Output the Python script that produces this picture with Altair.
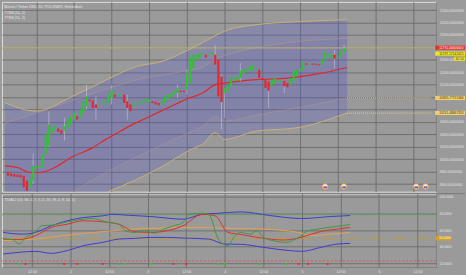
import altair as alt
import pandas as pd

# ---------------- price panel data (Heikin Ashi, hourly) ----------------
candle_open = [9786, 9770, 9760, 9755, 9749, 9733, 9653, 9547, 9653, 9840, 9856, 9867, 10080, 10213, 10426, 10480,
               10496, 10464, 10453, 10506, 10560, 10640, 10693, 10666, 10746, 10853, 10960, 10944, 10880, 10880, 10880,
               10906, 10906, 10986, 11040, 11029, 11029, 11040, 10933, 10880, 10853, 10896, 10890, 10906, 10922, 10922,
               10933, 10922, 10906, 10890, 10906, 10960, 10997, 11040, 11066, 11104, 11104, 11120, 11226, 11460, 11600,
               11626,
               11680, 11680, 11669, 11680, 11680, 11600, 11333, 11066, 11093, 11173, 11253, 11264, 11306, 11370, 11413,
               11413, 11440, 11440, 11440, 11306, 11290, 11253, 11173, 11226, 11253, 11253, 11264, 11226, 11200, 11253,
               11333, 11413, 11456, 11546, 11520, 11541, 11536, 11530, 11520, 11600, 11653, 11626, 11680, 11637, 11653,
               11706]
candle_close = [9733, 9725, 9717, 9712, 9707, 9547, 9493, 9680, 9893, 9893, 9877, 10080, 10400, 10560, 10506, 10533,
                10442, 10410, 10533, 10640, 10693, 10746, 10640, 10800, 10933, 11013, 10933, 10826, 10826, 10901, 10906,
                10933, 11040, 11120, 10997, 11050, 11050, 10906, 10826, 10773, 10906, 10917, 10917, 10933, 10976, 10960,
                10906, 10880, 10869, 10933, 11013, 11040, 11066, 11093, 11146, 11082, 11082, 11386, 11653, 11680, 11680,
                11706,
                11706, 11637, 11690, 11722, 11520, 11013, 10922, 11146, 11200, 11306, 11306, 11333, 11424, 11440, 11456,
                11493, 11520, 11466, 11306, 11280, 11146, 11104, 11280, 11317, 11280, 11280, 11173, 11157, 11306, 11424,
                11440, 11466, 11562, 11520, 11546, 11520, 11520, 11509, 11600, 11722, 11706, 11680, 11616, 11669, 11733,
                11787]
first_candle_hour = 3
candle_hour = [first_candle_hour + i for i in range(len(candle_open))]

wick_index = [8, 13, 18, 25, 28, 33, 38, 54, 57, 66, 68, 69, 74, 83, 88, 104, 107]
wick_high = [10085, 10773, 10666, 11200, 11013, 11200, 11040, 11200, 11440, 11840, 11360, 11146, 11546, 11253, 11280, 11760, 11840]
wick_low = [9600, 10200, 10300, 10800, 10640, 10880, 10640, 10986, 11040, 11520, 10480, 10666, 11253, 10826, 11066, 11466, 11700]

band_hour = [2, 12, 23, 34, 44, 52, 61, 65, 69, 72, 82, 95, 111]
upper_outer = [10909, 10773, 10997, 11269, 11493, 11573, 11773, 11877, 11989, 12061, 12165, 12213, 12245]
upper_inner = [10581, 10746, 10938, 11125, 11277, 11354, 11435, 11477, 11621, 11669, 11797, 11893, 11946]
lower_inner = [9173, 9301, 9469, 9781, 10037, 10229, 10437, 10533, 10693, 10613, 10709, 10826, 10986]
lower_outer = [8933, 8965, 9126, 9453, 9674, 9882, 10149, 10245, 10426, 10320, 10453, 10506, 10746]

ma_hour = [2, 6, 10, 13, 18, 23, 30, 34, 37, 42, 47, 52, 57, 60, 65, 69, 72, 82, 92, 103, 111]
ma_value = [9893, 9866, 9786, 9786, 9866, 10026, 10186, 10315, 10400, 10540, 10660, 10780, 10900, 10970, 11066,
            11200, 11226, 11280, 11306, 11386, 11477]

price_line = 11791.0
last_price = 11787.17142425
countdown = "32:14"
band_end_lower_inner = 10985.77721366
band_end_lower_outer = 10741.48667353
extension_hours = [111, 137.8]

icon_hour = [104, 110, 133, 136]
icon_price = [9560, 9560, 9560, 9560]

# ---------------- oscillator (TDI) data ----------------
green_hour = [3, 6, 8, 10, 13, 15, 18, 20, 22, 25, 28, 31, 34, 36, 39, 41, 44, 47, 50, 53, 56, 59, 61, 65, 67, 70,
              73, 75, 77, 80, 82, 84, 87, 91, 95, 98, 101, 104, 107, 111]
green_value = [49.2, 48.5, 43.2, 51.2, 57.1, 65.1, 65.8, 67.0, 69.0, 71.1, 73.0, 73.8, 71.1, 69.0, 67.0, 59.2, 57.1,
               59.2, 56.3, 61.1, 65.1, 69.0, 78.9, 80.1, 78.9, 49.2, 41.3, 52.4, 57.1, 55.1, 59.2, 51.2, 47.3, 45.2,
               51.2, 59.2, 61.1, 63.1, 64.3, 66.7]
red_hour = [3, 8, 13, 18, 23, 28, 34, 39, 44, 49, 54, 59, 65, 69, 73, 77, 82, 86, 90, 95, 99, 103, 107, 111]
red_value = [49.2, 48.5, 53.2, 63.1, 67.0, 71.1, 69.9, 67.0, 58.0, 57.1, 59.2, 65.1, 78.9, 77.0, 57.1, 54.8, 51.2,
             49.2, 48.0, 50.4, 55.1, 59.2, 61.1, 63.1]
blue_up_hour = [3, 9, 13, 18, 23, 28, 34, 37, 42, 49, 59, 65, 70, 77, 86, 96, 105, 111]
blue_up_value = [57.1, 55.1, 57.1, 65.1, 71.1, 75.0, 77.0, 78.9, 77.7, 76.2, 73.0, 78.9, 80.1, 81.8, 77.4, 73.8,
                 76.2, 77.4]
blue_lo_hour = [3, 8, 13, 18, 23, 28, 34, 39, 44, 49, 54, 59, 67, 72, 77, 84, 92, 96, 102, 107, 111]
blue_lo_value = [31.3, 33.3, 34.5, 32.1, 35.4, 41.3, 45.2, 49.2, 50.0, 51.2, 51.2, 50.4, 49.2, 43.2, 42.9, 39.3,
                 35.4, 34.5, 39.3, 43.2, 44.0]
orange_hour = [3, 13, 23, 34, 44, 54, 65, 75, 84, 95, 99, 105, 111]
orange_value = [47.3, 49.2, 53.8, 58.1, 61.1, 62.5, 63.1, 61.9, 61.1, 57.1, 53.2, 55.1, 57.1]
level_high, level_mid, level_low = 78, 50, 23

dot_hour = [8, 10, 22, 26, 34, 39, 41, 49, 56, 60, 70, 72, 83, 91, 95, 98, 104]
dot_kind = ["p", "y", "y", "y", "y", "p", "m", "m", "c", "y", "p", "m", "m", "m", "c", "y", "y"]
dot_level = 19.4

time_ticks = [12, 24, 36, 48, 60, 72, 84, 96, 108, 120, 132]
price_ticks = list(range(9600, 12401, 200))
osc_ticks = [20, 40, 60, 80, 100]

title_lines = ["Bitcoin / Tether USD, 60, POLONIEX, Heikin Ashi", "TTSB (50, 2)", "TTSB (50, 2)"]
title_rows = [5.3, 11.0, 16.3]
tdi_title = "TDIACI (13, 34, 2, 7, 5, 2, 23, 78, 2, 8, 14, 1)"

# ---------------- styling ----------------
BG = "#9a9a9a"
GRID = "#707070"
LABEL = "#e2e2e2"
FONT = "Liberation Sans"
GREEN = "#2fc32f"
RED = "#e5262a"
W, H1, H2 = 437, 191, 74
XDOM = [2.66, 137.8]
PDOM = [9477, 12533]
ODOM = [15.5, 103.6]

xscale = alt.Scale(domain=XDOM, nice=False, zero=False)
pscale = alt.Scale(domain=PDOM, nice=False, zero=False)
oscale = alt.Scale(domain=ODOM, nice=False, zero=False)

x_axis_top = alt.Axis(values=time_ticks, labels=False, ticks=False, domain=False, grid=True,
                      gridColor=GRID, gridWidth=1, title=None, minExtent=0, maxExtent=0)
x_axis_bot = alt.Axis(values=time_ticks,
                      labelExpr="datum.value % 24 == 0 ? toString(datum.value / 24 + 1) : '12:00'",
                      ticks=False, domain=True, domainColor=GRID, grid=True, gridColor=GRID, gridWidth=1,
                      labelColor=LABEL, labelFontSize=3.6, labelFont=FONT, labelPadding=2.5, title=None,
                      minExtent=10, maxExtent=10, labelOverlap=False)
p_axis = alt.Axis(orient="right", values=price_ticks,
                  labelExpr="indexof([11800, 11000, 10800], datum.value) >= 0 ? '' : format(datum.value, '.8f')",
                  ticks=False, domain=True, domainColor=GRID, grid=True, gridColor=GRID, gridWidth=1,
                  labelColor=LABEL, labelFontSize=3.3, labelFont=FONT, labelPadding=3, labelAlign="left",
                  title=None, minExtent=29, maxExtent=29, labelOverlap=False)
o_axis = alt.Axis(orient="right", values=osc_ticks, format=".4f",
                  ticks=False, domain=True, domainColor=GRID, grid=True, gridColor=GRID, gridWidth=1,
                  labelColor=LABEL, labelFontSize=3.3, labelFont=FONT, labelPadding=3, labelAlign="left",
                  title=None, minExtent=29, maxExtent=29, labelOverlap=False)


def XT(f):
    return alt.X(f, type="quantitative", scale=xscale, axis=x_axis_top)


def XB(f):
    return alt.X(f, type="quantitative", scale=xscale, axis=x_axis_bot)


def YP(f):
    return alt.Y(f, type="quantitative", scale=pscale, axis=p_axis)


def YO(f):
    return alt.Y(f, type="quantitative", scale=oscale, axis=o_axis)


def box_path(w, h):
    r = h / w
    return f"M-1,{-r}L1,{-r}L1,{r}L-1,{r}Z"


# ---------------- price panel ----------------
candles = pd.DataFrame({"h": candle_hour, "o": candle_open, "c": candle_close})
candles["dir"] = ["up" if c >= o else "down" for o, c in zip(candle_open, candle_close)]
wicks = pd.DataFrame({"h": [candle_hour[i] for i in wick_index], "hi": wick_high, "lo": wick_low})
bands = pd.DataFrame({"h": band_hour, "uo": upper_outer, "ui": upper_inner, "li": lower_inner, "lo": lower_outer})
ma = pd.DataFrame({"h": ma_hour, "v": ma_value})
ext = pd.DataFrame({"h": [extension_hours[0]] * 2, "h2": [extension_hours[1]] * 2,
                    "p": [band_end_lower_inner, band_end_lower_outer]})
icons = pd.DataFrame({"h": icon_hour, "p": icon_price})

outer_fill = alt.Chart(bands).mark_area(color="#5a5ad2", opacity=0.27, clip=True, interpolate="monotone").encode(
    x=XT("h"), y=YP("uo"), y2=alt.Y2("lo"))
inner_fill = alt.Chart(bands).mark_area(color="#4a4ab0", opacity=0.07, clip=True, interpolate="monotone").encode(
    x=XT("h"), y=YP("ui"), y2=alt.Y2("li"))
outer_lines = alt.Chart(bands).transform_fold(["uo", "lo"], as_=["k", "v"]).mark_line(
    color="#cdb574", strokeWidth=1, opacity=0.9, clip=True, interpolate="monotone").encode(
    x=XT("h"), y=YP("v:Q"), detail="k:N")
inner_lines = alt.Chart(bands).transform_fold(["ui", "li"], as_=["k", "v"]).mark_line(
    color="#b99a86", strokeWidth=0.8, opacity=0.6, clip=True, interpolate="monotone").encode(
    x=XT("h"), y=YP("v:Q"), detail="k:N")
hline = alt.Chart(pd.DataFrame({"p": [price_line]})).mark_rule(color="#d2c16e", strokeWidth=1).encode(y=YP("p"))
ext_lines = alt.Chart(ext).mark_rule(color="#d8c070", strokeWidth=1.3, strokeDash=[1, 1]).encode(
    x=XT("h"), x2=alt.X2("h2"), y=YP("p"))
ma_line = alt.Chart(ma).mark_line(color="#e0282c", strokeWidth=1.2, interpolate="monotone", clip=True).encode(
    x=XT("h"), y=YP("v"))
wick_rules = alt.Chart(wicks).mark_rule(color="#d4d4e0", strokeWidth=0.8, opacity=0.6).encode(
    x=XT("h"), y=YP("lo"), y2=alt.Y2("hi"))
bodies = alt.Chart(candles).mark_bar(size=2.1, clip=True).encode(
    x=XT("h"), y=YP("o"), y2=alt.Y2("c"),
    color=alt.Color("dir:N", scale=alt.Scale(domain=["up", "down"], range=[GREEN, RED]), legend=None))
icon_ring = alt.Chart(icons).mark_point(shape="circle", filled=True, fill="#f2eef0", stroke="#e6a040",
                                        strokeWidth=0.8, size=30, opacity=1).encode(x=XT("h"), y=YP("p"))
icon_red = alt.Chart(icons).mark_point(shape="circle", filled=True, color="#e04040", size=5, opacity=1,
                                       xOffset=-0.8, yOffset=0.8).encode(x=XT("h"), y=YP("p"))
icon_blue = alt.Chart(icons).mark_point(shape="circle", filled=True, color="#4060d0", size=5, opacity=1,
                                        xOffset=0.9, yOffset=0.8).encode(x=XT("h"), y=YP("p"))

title_layers = [
    alt.Chart(pd.DataFrame({"t": [t]})).mark_text(
        align="left", baseline="middle", fontSize=3.6, font=FONT, color="#e6e6e6").encode(
        x=alt.value(2.5), y=alt.value(row), text="t:N")
    for t, row in zip(title_lines, title_rows)
]

price_labels = pd.DataFrame({
    "p": [price_line, last_price, band_end_lower_inner, band_end_lower_outer],
    "txt": ["11791.00000000", "11787.17142425", "10985.77721366", "10741.48667353"],
    "fill": ["#e3342f", "#f1e41c", "#f2cd6a", "#f2cd6a"],
    "tc": ["#f4f4f4", "#3a3a2a", "#3a3a2a", "#3a3a2a"],
    "off": [-0.3, 5.4, 0, -0.2],
})
lab_layers = []
for _, r in price_labels.iterrows():
    d = pd.DataFrame([r])
    lab_layers.append(alt.Chart(d).mark_point(shape=box_path(30, 4.2), filled=True, color=r["fill"], size=900,
                                              opacity=1, yOffset=r["off"]).encode(x=alt.value(451), y=YP("p")))
    lab_layers.append(alt.Chart(d).mark_text(fontSize=3.3, font=FONT, color=r["tc"], align="left",
                                             baseline="middle", dy=r["off"]).encode(
        x=alt.value(440), y=YP("p"), text="txt:N"))
cd = pd.DataFrame({"p": [last_price], "txt": [countdown]})
lab_layers.append(alt.Chart(cd).mark_point(shape=box_path(11, 4.0), filled=True, color="#f1e41c", size=121,
                                           opacity=1, yOffset=10.6).encode(x=alt.value(460.5), y=YP("p")))
lab_layers.append(alt.Chart(cd).mark_text(fontSize=3.3, font=FONT, color="#3a3a2a", align="center",
                                          baseline="middle", dy=10.6).encode(
    x=alt.value(460.5), y=YP("p"), text="txt:N"))

top = alt.layer(outer_fill, inner_fill, outer_lines, inner_lines, hline, ext_lines, ma_line, wick_rules, bodies,
                icon_ring, icon_red, icon_blue, *title_layers, *lab_layers).properties(width=W, height=H1)

# ---------------- oscillator panel ----------------
lvl_hi = alt.Chart(pd.DataFrame({"v": [level_high]})).mark_rule(
    color="#42c442", strokeWidth=0.9, strokeDash=[2, 2]).encode(y=YO("v"))
lvl_mid = alt.Chart(pd.DataFrame({"v": [level_mid]})).mark_rule(
    color="#b79c3a", strokeWidth=1.3, strokeDash=[1.2, 1]).encode(y=YO("v"))
lvl_lo = alt.Chart(pd.DataFrame({"v": [level_low]})).mark_rule(
    color="#e04a4a", strokeWidth=0.9, strokeDash=[2, 2]).encode(y=YO("v"))


def osc_line(hours, vals, color, width=1.0):
    return alt.Chart(pd.DataFrame({"h": hours, "v": vals})).mark_line(
        color=color, strokeWidth=width, interpolate="monotone", clip=True).encode(x=XB("h"), y=YO("v"))


l_bu = osc_line(blue_up_hour, blue_up_value, "#3b3bd6")
l_bl = osc_line(blue_lo_hour, blue_lo_value, "#3b3bd6")
l_or = osc_line(orange_hour, orange_value, "#e6a050")
l_rd = osc_line(red_hour, red_value, "#dc3030")
l_gr = osc_line(green_hour, green_value, "#3f9a3a")

dots = alt.Chart(pd.DataFrame({"h": dot_hour, "k": dot_kind, "v": [dot_level] * len(dot_hour)})).mark_square(
    size=3.5, opacity=1).encode(
    x=XB("h"), y=YO("v"),
    color=alt.Color("k:N", scale=alt.Scale(domain=["p", "y", "m", "c"],
                                           range=["#8a1a8a", "#f2dc10", "#f020f0", "#10e6e6"]), legend=None))
tdi_text = alt.Chart(pd.DataFrame({"t": [tdi_title]})).mark_text(
    align="left", baseline="middle", fontSize=3.6, font=FONT, color="#e6e6e6").encode(
    x=alt.value(2.5), y=alt.value(6.5), text="t:N")
sep = alt.Chart(pd.DataFrame({"v": [ODOM[1]]})).mark_rule(color="#7c7c7c", strokeWidth=1).encode(
    x=alt.value(0), x2=alt.value(466), y=YO("v"))
mid_lab = pd.DataFrame({"v": [level_mid], "txt": ["50.0000"]})
mid_box = alt.Chart(mid_lab).mark_point(shape=box_path(16, 4.2), filled=True, color="#d4a21c", size=256,
                                        opacity=1).encode(x=alt.value(444), y=YO("v"))
mid_txt = alt.Chart(mid_lab).mark_text(fontSize=3.3, font=FONT, color="#f6f6f6", align="left",
                                       baseline="middle").encode(x=alt.value(440), y=YO("v"), text="txt:N")

bottom = alt.layer(lvl_hi, lvl_mid, lvl_lo, l_bu, l_bl, l_or, l_rd, l_gr, dots, tdi_text, sep, mid_box,
                   mid_txt).properties(width=W, height=H2)

chart = alt.vconcat(top, bottom, spacing=0).properties(padding=0, background=BG).configure_view(
    strokeWidth=0).configure(font=FONT)

chart.save("out.html", embed_options={"renderer": "svg", "actions": False})
